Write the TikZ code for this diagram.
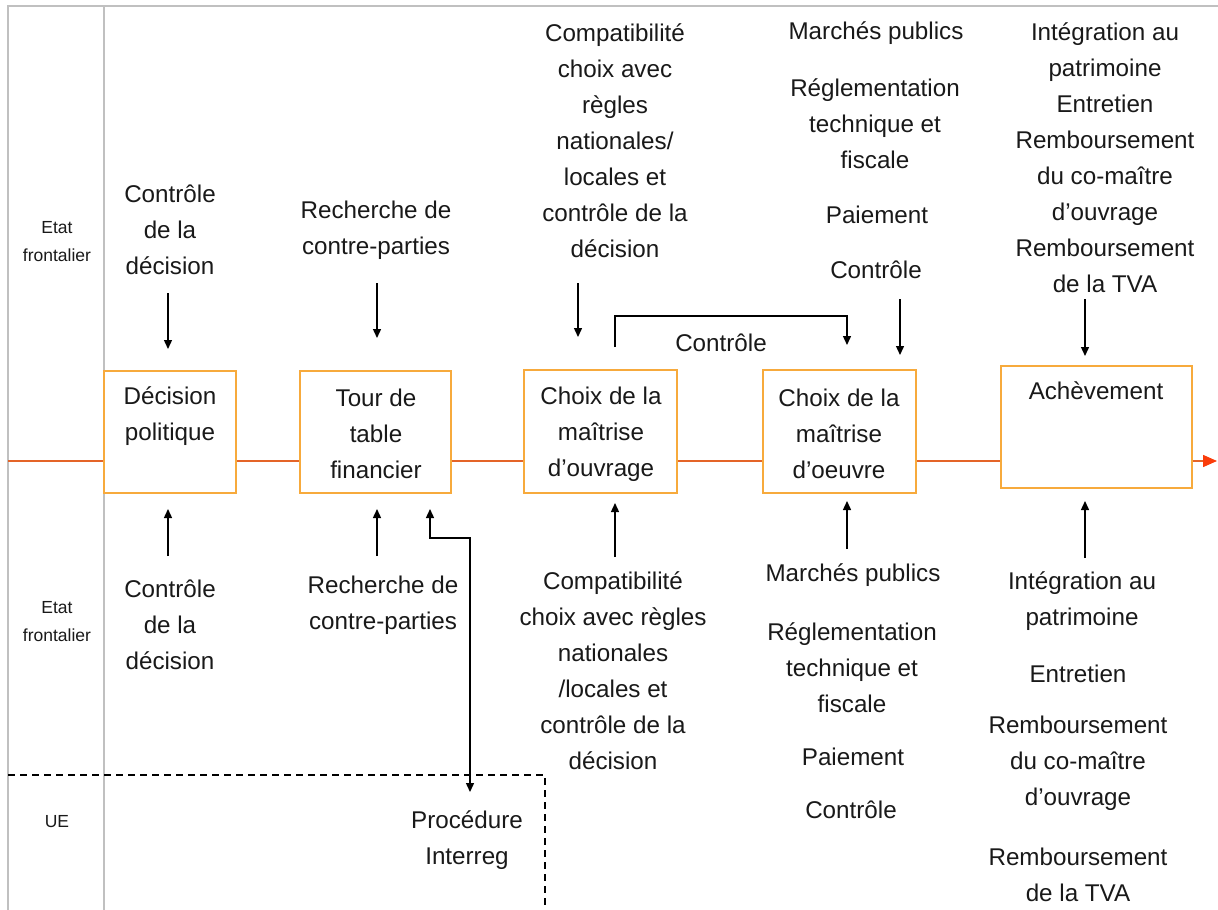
\documentclass[tikz,border=0pt]{standalone}
\usepackage{fontspec}
\setmainfont{Liberation Sans}
\usetikzlibrary{arrows.meta}
\definecolor{boxorange}{RGB}{247,170,60}
\definecolor{lineorange}{RGB}{228,100,40}
\definecolor{tipred}{RGB}{250,60,10}
\definecolor{framegray}{RGB}{192,192,192}
\definecolor{txtcol}{RGB}{25,25,25}
\begin{document}
\begin{tikzpicture}[x=1pt,y=-1pt,
  txt/.style={align=center,inner sep=0pt,text=txtcol,font=\fontsize{24.2}{36}\selectfont},
  side/.style={align=center,inner sep=0pt,text=txtcol,font=\fontsize{17.5}{28}\selectfont},
  stagebox/.style={draw=boxorange,line width=1.5pt,fill=white,inner sep=0pt,minimum height=122pt},
  arr/.style={line width=1.4pt,-{Triangle[length=9pt,width=8pt]}},
  darr/.style={line width=1.4pt,{Triangle[length=9pt,width=8pt]}-{Triangle[length=9pt,width=8pt]}},
  mainline/.style={draw=lineorange,line width=1.5pt},
  framelines/.style={draw=framegray,line width=1.6pt},
  ueline/.style={line width=1.2pt,dash pattern=on 7pt off 5pt}]
\useasboundingbox (0,0) rectangle (1218,910);
% frame
\draw[framelines] (8,910) -- (8,6) -- (1218,6);
\draw[framelines] (104,6) -- (104,910);
\draw[ueline] (8,775) -- (545,775) -- (545,910);
% side labels
\node[side] (s1) at (57,242) {Etat\\frontalier};
\node[side] (s2) at (57,622) {Etat\\frontalier};
\node[side] (s3) at (57,822) {UE};
% main line
\coordinate (L0) at (8,461);
\coordinate (L1) at (1217,461);
% boxes
\node[stagebox,minimum width=132pt] (b1) at (170,432) {};
\node[stagebox,minimum width=151pt] (b2) at (375.5,432) {};
\node[stagebox,minimum width=153pt,minimum height=123pt] (b3) at (600.5,431.5) {};
\node[stagebox,minimum width=153pt,minimum height=123pt] (b4) at (839.5,431.5) {};
\node[stagebox,minimum width=191pt] (b5) at (1096.5,427) {};
\draw[mainline] (L0) -- (L0 -| b1.west);
\draw[mainline] (b1.east |- L0) -- (L0 -| b2.west);
\draw[mainline] (b2.east |- L0) -- (L0 -| b3.west);
\draw[mainline] (b3.east |- L0) -- (L0 -| b4.west);
\draw[mainline] (b4.east |- L0) -- (L0 -| b5.west);
\draw[mainline,-{Triangle[length=14pt,width=12pt,color=tipred]}] (b5.east |- L0) -- (L1);
% box texts
\node[txt] (bt1) at (170,416) {Décision\\politique};
\node[txt] (bt2) at (376,434) {Tour de\\table\\financier};
\node[txt] (bt3) at (601,434) {Choix de la\\maîtrise\\d’ouvrage};
\node[txt] (bt4) at (839,434) {Choix de la\\maîtrise\\d’oeuvre};
\node[txt] (bt5) at (1096,391) {Achèvement};
% top texts
\node[txt] (t1) at (170,229.5) {Contrôle\\de la\\décision};
\node[txt] (t2) at (376,230) {Recherche de\\contre-parties};
\node[txt] (t3) at (615,141) {Compatibilité\\choix avec\\règles\\nationales/\\locales et\\contrôle de la\\décision};
\node[txt] (t4a) at (876,33) {Marchés publics};
\node[txt] (t4b) at (875,124) {Réglementation\\technique et\\fiscale};
\node[txt] (t4c) at (877,215) {Paiement};
\node[txt] (t4d) at (876,270) {Contrôle};
\node[txt] (t5) at (1105,157.5) {Intégration au\\patrimoine\\Entretien\\Remboursement\\du co-maître\\d’ouvrage\\Remboursement\\de la TVA};
% bottom texts
\node[txt] (u1) at (170,625) {Contrôle\\de la\\décision};
\node[txt] (u2) at (383,605) {Recherche de\\contre-parties};
\node[txt] (u3) at (613,671) {Compatibilité\\choix avec règles\\nationales\\/locales et\\contrôle de la\\décision};
\node[txt] (u4a) at (853,575) {Marchés publics};
\node[txt] (u4b) at (852,667.5) {Réglementation\\technique et\\fiscale};
\node[txt] (u4c) at (853,757) {Paiement};
\node[txt] (u4d) at (851,810) {Contrôle};
\node[txt] (u5a) at (1082,601) {Intégration au\\patrimoine};
\node[txt] (u5b) at (1078,674) {Entretien};
\node[txt] (u5c) at (1078,763.5) {Remboursement\\du co-maître\\d’ouvrage};
\node[txt] (u5d) at (1078,875) {Remboursement\\de la TVA};
\node[txt] (pi) at (467,840) {Procédure\\Interreg};
\node[txt] (ctl) at (721,343) {Contrôle};
% top arrows
\coordinate (a1s) at (168,293); \coordinate (a1e) at (168,349);
\coordinate (a2s) at (377,283); \coordinate (a2e) at (377,338);
\coordinate (a3s) at (578,283); \coordinate (a3e) at (578,337);
\coordinate (a4s) at (900,299); \coordinate (a4e) at (900,355);
\coordinate (a5s) at (1085,299); \coordinate (a5e) at (1085,356);
\draw[arr] (a1s) -- (a1e);
\draw[arr] (a2s) -- (a2e);
\draw[arr] (a3s) -- (a3e);
\draw[arr] (a4s) -- (a4e);
\draw[arr] (a5s) -- (a5e);
% bracket
\coordinate (c1) at (615,347); \coordinate (c2) at (847,345);
\draw[arr] (c1) -- ++(0,-31) -| (c2);
% bottom arrows
\coordinate (d1s) at (168,556); \coordinate (d1e) at (168,509);
\coordinate (d2s) at (377,556); \coordinate (d2e) at (377,509);
\coordinate (d3s) at (615,557); \coordinate (d3e) at (615,503);
\coordinate (d4s) at (847,549); \coordinate (d4e) at (847,501);
\coordinate (d5s) at (1085,558); \coordinate (d5e) at (1085,501);
\draw[arr] (d1s) -- (d1e);
\draw[arr] (d2s) -- (d2e);
\draw[arr] (d3s) -- (d3e);
\draw[arr] (d4s) -- (d4e);
\draw[arr] (d5s) -- (d5e);
% elbow to Interreg
\coordinate (e1) at (430,509); \coordinate (e2) at (470,792);
\draw[darr] (e1) -- ++(0,29) -| (e2);
\end{tikzpicture}
\end{document}
